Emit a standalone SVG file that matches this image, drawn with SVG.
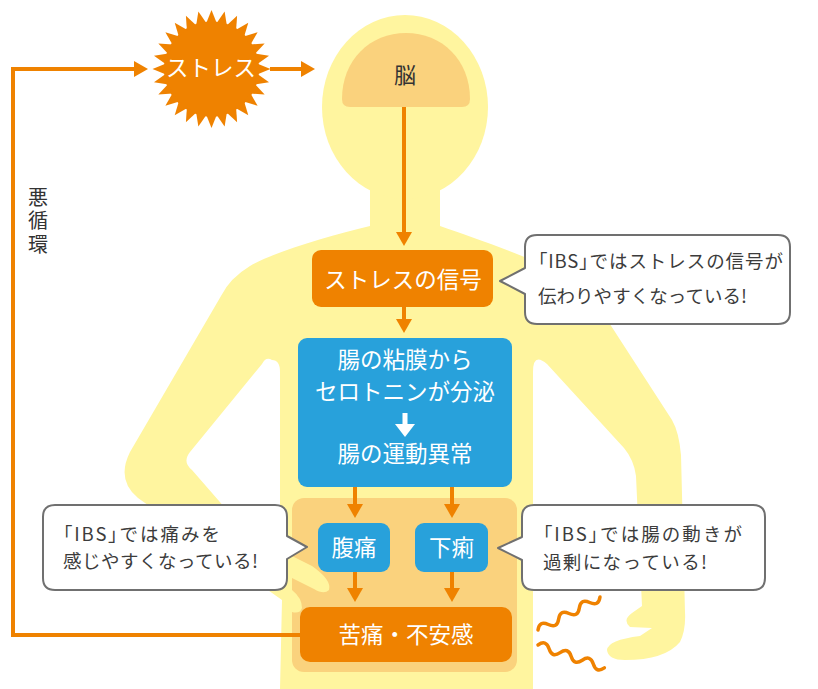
<svg xmlns="http://www.w3.org/2000/svg" width="818" height="689" viewBox="0 0 818 689">
  <defs>
    <style>
      .skin { fill: #FFF59F; }
      .pale { fill: #FAD27D; }
      .wire { fill: none; stroke: #EF8200; stroke-width: 4; stroke-linejoin: miter; }
      .box-o { fill: #EF8200; }
      .box-b { fill: #28A1DB; }
      .lbl { font-family: "Noto Sans CJK JP", "Noto Sans", sans-serif; fill: #FFFFFF; font-size: 22.5px; text-anchor: middle; }
      .dark { font-family: "Noto Sans CJK JP", "Noto Sans", sans-serif; fill: #333333; }
      .note { fill: #FFFFFF; stroke: #707070; stroke-width: 2; stroke-linejoin: round; }
      .note-t { font-family: "Noto Sans CJK JP", "Noto Sans", sans-serif; fill: #3C3C3C; font-size: 18.5px; }
      .br { font-feature-settings: "palt"; }
      .squig { fill: none; stroke: #EF8200; stroke-width: 3.5; stroke-linecap: round; }
    </style>
    <marker id="head" markerUnits="userSpaceOnUse" markerWidth="14" markerHeight="16" viewBox="0 0 14 16" refX="2" refY="8" orient="auto">
      <path d="M0,0 L14,8 L0,16 Z" fill="#EF8200"/>
    </marker>
    <polygon id="spike" points="0,-59 5.4,-45.5 -5.4,-45.5"/>
  </defs>

  <!-- body silhouette -->
  <g id="body">
    <path class="skin" fill-rule="evenodd" d="M 370 150 L 370 226 C 330 236 278 250 250 266 Q 230 278 221 296 L 130 452 Q 116 480 138 498 L 282 600 L 280 689 L 533 689 L 533 372 Q 533 352 547 364 L 624 448 Q 634 460 636 476 L 642 606 L 632 613 Q 622 620 630 627 L 652 628 L 640 636 Q 608 640 607 650 Q 608 660 625 660 Q 665 660 680 642 Q 686 630 685 612 L 681 455 Q 679 432 672 420 L 606 318 Q 592 296 570 280 C 545 262 480 240 440 226 L 440 150 Z M 272 360 Q 266 356 262 364 L 190 452 Q 182 462 192 470 L 280 571 L 280 372 Q 280 360 272 360 Z"/>
    <ellipse class="skin" cx="405" cy="107" rx="83" ry="92"/>
  </g>

  <!-- brain -->
  <g id="brain">
    <path class="pale" d="M 350 107 Q 342 107 342 99 C 342 60 370 33 406 33 C 442 33 470 60 470 99 Q 470 107 462 107 Z"/>
    <text class="dark" x="405" y="83" font-size="22" text-anchor="middle">脳</text>
  </g>

  <!-- gut area -->
  <g id="gut-panel">
    <rect class="pale" x="292" y="498" width="225" height="174" rx="12"/>
    <path class="skin" d="M 292 556 L 312 566 Q 332 580 329 590 Q 324 595 314 589 L 292 578 Z M 292 590 Q 302 598 302 608 Q 300 614 292 612 Z"/>
  </g>

  <!-- connectors -->
  <g id="connectors">
    <path class="wire" d="M 300 635 H 13 V 69 H 136" marker-end="url(#head)"/>
    <path class="wire" d="M 270 69 H 303" marker-end="url(#head)"/>
    <path class="wire" d="M 404 107 V 234" marker-end="url(#head)"/>
    <path class="wire" d="M 404 307 V 321" marker-end="url(#head)"/>
    <path class="wire" d="M 355 487 V 506" marker-end="url(#head)"/>
    <path class="wire" d="M 452 487 V 506" marker-end="url(#head)"/>
    <path class="wire" d="M 355 572 V 590" marker-end="url(#head)"/>
    <path class="wire" d="M 452 572 V 590" marker-end="url(#head)"/>
  </g>

  <!-- stress burst -->
  <g id="stress">
    <g transform="translate(211.5,69)" fill="#EF8200">
      <circle r="47.5"/>
      <use href="#spike"/>
      <use href="#spike" transform="rotate(12.857)"/>
      <use href="#spike" transform="rotate(25.714)"/>
      <use href="#spike" transform="rotate(38.571)"/>
      <use href="#spike" transform="rotate(51.429)"/>
      <use href="#spike" transform="rotate(64.286)"/>
      <use href="#spike" transform="rotate(77.143)"/>
      <use href="#spike" transform="rotate(90)"/>
      <use href="#spike" transform="rotate(102.857)"/>
      <use href="#spike" transform="rotate(115.714)"/>
      <use href="#spike" transform="rotate(128.571)"/>
      <use href="#spike" transform="rotate(141.429)"/>
      <use href="#spike" transform="rotate(154.286)"/>
      <use href="#spike" transform="rotate(167.143)"/>
      <use href="#spike" transform="rotate(180)"/>
      <use href="#spike" transform="rotate(192.857)"/>
      <use href="#spike" transform="rotate(205.714)"/>
      <use href="#spike" transform="rotate(218.571)"/>
      <use href="#spike" transform="rotate(231.429)"/>
      <use href="#spike" transform="rotate(244.286)"/>
      <use href="#spike" transform="rotate(257.143)"/>
      <use href="#spike" transform="rotate(270)"/>
      <use href="#spike" transform="rotate(282.857)"/>
      <use href="#spike" transform="rotate(295.714)"/>
      <use href="#spike" transform="rotate(308.571)"/>
      <use href="#spike" transform="rotate(321.429)"/>
      <use href="#spike" transform="rotate(334.286)"/>
      <use href="#spike" transform="rotate(347.143)"/>
    </g>
    <text class="lbl" x="211" y="76" font-size="19.5">ストレス</text>
  </g>

  <!-- loop label, set vertically -->
  <g id="loop-label">
    <text class="dark" x="38" y="187" font-size="20" style="writing-mode: vertical-rl; letter-spacing: 3.5px;">悪循環</text>
  </g>

  <g id="signal">
    <rect class="box-o" x="312" y="250" width="181" height="57" rx="9"/>
    <text class="lbl" x="403" y="288">ストレスの信号</text>
  </g>

  <g id="serotonin">
    <rect class="box-b" x="298" y="338" width="214" height="149" rx="9"/>
    <text class="lbl" x="405" y="368" font-size="22">腸の粘膜から</text>
    <text class="lbl" x="405" y="400" font-size="22">セロトニンが分泌</text>
    <rect x="402.5" y="413" width="5" height="12" fill="#FFFFFF"/>
    <polygon points="395,424 415,424 405,437" fill="#FFFFFF"/>
    <text class="lbl" x="405" y="462" font-size="22">腸の運動異常</text>
  </g>

  <g id="pain">
    <rect class="box-b" x="318" y="523" width="72" height="49" rx="9"/>
    <text class="lbl" x="354" y="556">腹痛</text>
  </g>

  <g id="diarrhea">
    <rect class="box-b" x="415" y="523" width="73" height="49" rx="9"/>
    <text class="lbl" x="451.5" y="556">下痢</text>
  </g>

  <g id="distress">
    <rect class="box-o" x="300" y="607" width="212" height="55" rx="10"/>
    <text class="lbl" x="406" y="643">苦痛・不安感</text>
  </g>

  <!-- callouts -->
  <g id="note-signal">
    <path class="note" d="M 537 235 H 778 Q 790 235 790 247 V 312 Q 790 324 778 324 H 537 Q 525 324 525 312 V 294 L 500 281 L 525 268 V 247 Q 525 235 537 235 Z"/>
    <text class="note-t" x="538" y="268" textLength="245"><tspan class="br">「</tspan>IBS<tspan class="br">」</tspan>ではストレスの信号が</text>
    <text class="note-t" x="538" y="303" textLength="209">伝わりやすくなっている!</text>
  </g>

  <g id="note-pain">
    <path class="note" d="M 55 505 H 275 Q 287 505 287 517 V 536 L 307 547 L 287 559 V 578 Q 287 590 275 590 H 55 Q 43 590 43 578 V 517 Q 43 505 55 505 Z"/>
    <text class="note-t" x="63" y="541" textLength="157"><tspan class="br">「</tspan>IBS<tspan class="br">」</tspan>では痛みを</text>
    <text class="note-t" x="63" y="568" textLength="195">感じやすくなっている!</text>
  </g>

  <g id="note-diarrhea">
    <path class="note" d="M 534 505 H 753 Q 765 505 765 517 V 578 Q 765 590 753 590 H 534 Q 522 590 522 578 V 560 L 498 548 L 522 537 V 517 Q 522 505 534 505 Z"/>
    <text class="note-t" x="543" y="541" textLength="199"><tspan class="br">「</tspan>IBS<tspan class="br">」</tspan>では腸の動きが</text>
    <text class="note-t" x="543" y="569" textLength="164">過剰になっている!</text>
  </g>

  <!-- bowel motion marks -->
  <g id="motion">
    <path class="squig" transform="translate(538,630) rotate(-28)" d="M0,0 q5.8,-8 11.7,0 t11.7,0 t11.7,0 t11.7,0 t11.7,0 t11.7,0"/>
    <path class="squig" transform="translate(538,645) rotate(19)" d="M0,0 q5.8,-8 11.7,0 t11.7,0 t11.7,0 t11.7,0 t11.7,0 t11.7,0"/>
  </g>
</svg>
